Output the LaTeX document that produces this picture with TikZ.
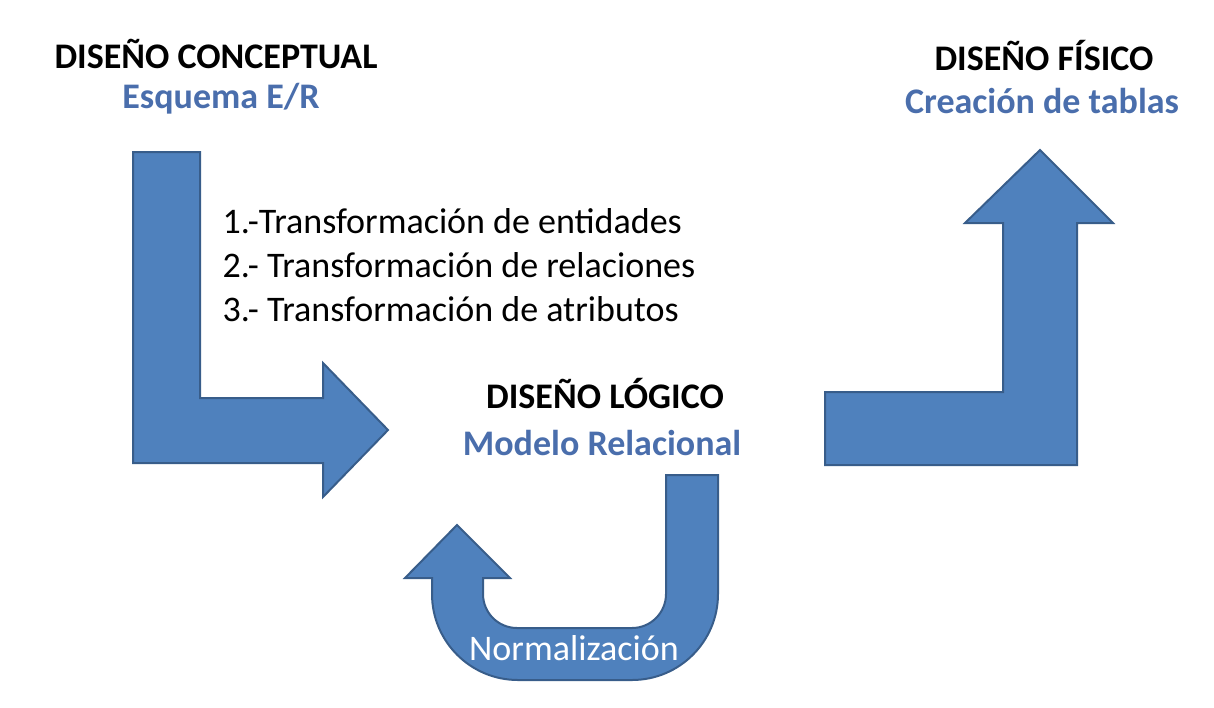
\documentclass[tikz,border=0pt]{standalone}
\usepackage{fontspec}
\setmainfont{Carlito}
\usetikzlibrary{positioning}

\definecolor{arrowfill}{RGB}{79,129,189}
\definecolor{arrowline}{RGB}{56,93,138}
\definecolor{subblue}{RGB}{74,110,172}

\begin{document}
\begin{tikzpicture}[x=0.5pt,y=-0.5pt,semithick]
        \tikzstyle{bigarrow}=[fill=arrowfill,draw=arrowline,line width=1pt,line join=miter]
        \tikzstyle{title}=[font=\bfseries\fontsize{18}{22}\selectfont,text=black,inner sep=0pt,anchor=base]
        \tikzstyle{subtitle}=[font=\bfseries\fontsize{18}{22}\selectfont,text=subblue,inner sep=0pt,anchor=base]
        \tikzstyle{step text}=[font=\fontsize{18}{22}\selectfont,text=black,inner sep=0pt,anchor=base west]
        \useasboundingbox (0,0) rectangle (1214,707);

        % arrows
        \draw[bigarrow] (133,152) -- (200,152) -- (200,398) -- (323,398) -- (323,363)
              -- (388,430) -- (323,497) -- (323,463) -- (133,463) -- cycle;
        \draw[bigarrow] (825,392) -- (1003,392) -- (1003,223) -- (965,223) -- (1040,150)
              -- (1113,223) -- (1077,223) -- (1077,465) -- (825,465) -- cycle;
        \draw[bigarrow] (718,475) -- (718,594) arc[start angle=0,end angle=90,radius=86]
              -- (518,680) arc[start angle=90,end angle=180,radius=86]
              -- (432,578) -- (405,578) -- (457,525) -- (510,578) -- (483,578)
              -- (483,594) arc[start angle=180,end angle=90,radius=34]
              -- (632,628) arc[start angle=90,end angle=0,radius=34]
              -- (666,475) -- cycle;

        % texts
        \node[title]    (concept)    at (216,68)  {DISEÑO CONCEPTUAL};
        \node[subtitle] (esquema)    at (221,108) {Esquema E/R};
        \node[title]    (fisico)     at (1044,70) {DISEÑO FÍSICO};
        \node[subtitle] (tablas)     at (1042,113) {Creación de tablas};
        \node[title]    (logico)     at (605,408) {DISEÑO LÓGICO};
        \node[subtitle] (relacional) at (602,455) {Modelo Relacional};

        \node[step text] (entidades) at (222,233) {1.-Transformación de entidades};
        \node[step text] (relaciones) [below=22pt of entidades.base west,anchor=base west] {2.- Transformación de relaciones};
        \node[step text] (atributos)  [below=22pt of relaciones.base west,anchor=base west] {3.- Transformación de atributos};

        \node[font=\fontsize{18}{22}\selectfont,text=white,inner sep=0pt,anchor=base] (norm) at (574,660) {Normalización};
\end{tikzpicture}
\end{document}
